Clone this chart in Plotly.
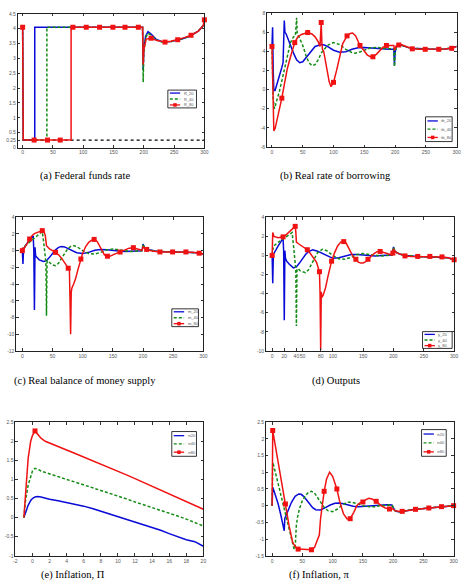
import plotly.graph_objects as go

# ---------------- data ----------------
# (a) Federal funds rate
a_x20 = [0, 1, 20, 20, 198, 199, 200, 203, 207, 212, 220, 230, 245, 260, 275, 290, 298, 300]
a_y20 = [4.05, 0.25, 0.25, 4.05, 4.05, 2.6, 3.3, 3.75, 3.9, 3.82, 3.65, 3.56, 3.57, 3.64, 3.74, 3.92, 4.1, 4.15]
a_x40 = [0, 1, 40, 40, 198, 199, 200, 203, 207, 212, 220, 230, 245, 260, 275, 290, 298, 300]
a_y40 = [4.05, 0.25, 0.25, 4.05, 4.05, 2.2, 3.2, 3.7, 3.85, 3.78, 3.63, 3.55, 3.57, 3.64, 3.74, 3.92, 4.1, 4.15]
a_x80 = [0, 1, 19, 41, 62, 80, 80, 83, 105, 127, 149, 169, 191, 198, 199, 200, 204, 212, 222, 235, 245, 256, 267, 278, 290, 298, 300]
a_y80 = [4.05, 0.25, 0.25, 0.25, 0.25, 0.25, 4.05, 4.05, 4.05, 4.05, 4.05, 4.05, 4.05, 4.05, 2.8, 3.3, 3.65, 3.68, 3.6, 3.55, 3.58, 3.63, 3.7, 3.78, 3.92, 4.1, 4.3]
a_mx80 = [0, 19, 41, 62, 83, 105, 127, 149, 169, 191, 212, 235, 256, 278, 300]
a_my80 = [4.05, 0.25, 0.25, 0.25, 4.05, 4.05, 4.05, 4.05, 4.05, 4.05, 3.68, 3.55, 3.63, 3.78, 4.3]
a_bound_x = [0, 300]
a_bound_y = [0.25, 0.25]

# (b) Real rate of borrowing
b_x20 = [0, 1, 2, 3, 5, 8, 12, 16, 18, 19, 20, 21, 23, 26, 30, 35, 40, 45, 50, 55, 60, 70, 80, 85, 90, 100, 110, 120, 130, 140, 150, 160, 170, 180, 190, 198, 199, 200, 202, 205, 208, 212, 220, 230, 240, 250, 260, 270, 280, 290, 300]
b_y20 = [4.5, 6.5, 2.0, -0.1, -0.1, 0.5, 1.4, 2.3, 2.8, 4.5, 7.2, 6.0, 5.8, 5.3, 4.6, 3.8, 3.1, 2.8, 2.9, 3.3, 3.8, 4.5, 4.7, 4.65, 4.5, 4.1, 3.9, 3.95, 4.2, 4.35, 4.4, 4.35, 4.25, 4.2, 4.2, 4.2, 2.5, 3.8, 4.5, 4.65, 4.7, 4.6, 4.4, 4.3, 4.25, 4.2, 4.2, 4.2, 4.2, 4.3, 4.5]
b_x40 = [0, 1, 2, 4, 8, 12, 16, 20, 25, 30, 35, 38, 39, 40, 41, 43, 46, 50, 55, 60, 65, 70, 75, 80, 90, 100, 110, 120, 130, 135, 140, 150, 160, 170, 180, 190, 198, 199, 200, 202, 205, 208, 212, 220, 230, 240, 260, 280, 300]
b_y40 = [4.5, 2.0, -1.0, -2.0, -1.2, -0.2, 0.9, 2.0, 3.4, 4.9, 5.5, 5.6, 6.5, 7.5, 5.9, 5.6, 5.2, 4.6, 3.6, 2.8, 2.5, 2.6, 3.1, 3.8, 4.6, 4.9, 4.7, 4.2, 3.85, 3.8, 3.85, 4.1, 4.35, 4.4, 4.3, 4.25, 4.25, 2.4, 3.8, 4.5, 4.65, 4.7, 4.6, 4.4, 4.3, 4.25, 4.2, 4.2, 4.5]
b_x80 = [0, 1, 2, 3, 5, 8, 12, 16, 20, 25, 30, 37, 42, 48, 58, 65, 70, 75, 78, 79, 80, 81, 82, 84, 87, 90, 93, 96, 100, 105, 110, 115, 122, 127, 131, 136, 143, 150, 155, 160, 164, 170, 175, 180, 186, 195, 198, 199, 200, 202, 206, 210, 218, 228, 238, 249, 260, 271, 280, 292, 300]
b_y80 = [4.5, 0.0, -3.5, -4.3, -4.1, -3.3, -2.2, -0.9, 0.5, 2.2, 3.4, 4.9, 5.5, 5.75, 5.95, 5.8, 5.5, 5.0, 4.5, 5.5, 7.0, 5.0, 4.2, 4.0, 3.0, 1.8, 0.8, 0.3, 0.75, 2.0, 3.6, 4.8, 5.6, 5.85, 5.9, 5.6, 4.6, 3.95, 3.6, 3.42, 3.42, 3.7, 4.1, 4.4, 4.6, 4.6, 4.6, 4.1, 4.3, 4.55, 4.65, 4.7, 4.5, 4.25, 4.2, 4.2, 4.18, 4.2, 4.22, 4.3, 4.5]
b_mx80 = [0, 16, 37, 58, 80, 100, 122, 143, 164, 186, 206, 228, 249, 271, 292]
b_my80 = [4.5, -0.9, 4.9, 5.95, 7.0, 0.75, 5.6, 4.6, 3.42, 4.6, 4.65, 4.25, 4.2, 4.2, 4.3]

# (c) Real balance of money supply
c_x20 = [0, 1, 2, 4, 8, 12, 16, 18, 19, 20, 21, 22, 24, 28, 35, 40, 45, 50, 55, 60, 65, 70, 80, 90, 100, 110, 120, 130, 140, 150, 160, 170, 180, 190, 198, 199, 200, 202, 205, 210, 220, 230, 250, 270, 290, 300]
c_y20 = [0, -1.6, 0.2, 0.5, 0.9, 1.3, 1.6, 1.75, 0.0, -7.1, 0.4, -0.6, -0.8, -1.1, -1.3, -1.2, -0.8, -0.3, 0.1, 0.4, 0.5, 0.45, 0.1, -0.25, -0.35, -0.2, 0.05, 0.15, 0.1, 0.0, -0.05, -0.1, -0.05, 0.0, 0.0, 0.3, 0.8, 0.4, 0.2, 0.1, -0.05, -0.1, -0.15, -0.15, -0.25, -0.4]
c_x40 = [0, 2, 5, 10, 15, 20, 25, 30, 33, 35, 37, 38, 39, 40, 41, 43, 46, 50, 55, 60, 65, 70, 75, 80, 85, 90, 100, 110, 120, 130, 140, 150, 160, 170, 180, 190, 198, 199, 200, 202, 205, 210, 220, 230, 250, 270, 290, 300]
c_y40 = [0, 0.4, 0.6, 0.9, 1.2, 1.5, 1.8, 2.1, 2.3, 1.2, -0.5, -1.2, -1.4, -7.8, -1.2, -1.3, -1.5, -1.7, -1.8, -1.5, -0.9, -0.3, 0.2, 0.5, 0.6, 0.5, 0.0, -0.35, -0.4, -0.2, 0.1, 0.2, 0.1, -0.05, -0.1, -0.05, 0.0, 0.3, 0.8, 0.4, 0.2, 0.1, -0.05, -0.1, -0.15, -0.15, -0.25, -0.4]
c_x80 = [0, 1, 2, 4, 8, 12, 16, 20, 25, 30, 33, 36, 38, 40, 42, 45, 50, 55, 60, 65, 70, 76, 78, 79, 80, 81, 82, 85, 88, 92, 97, 100, 105, 110, 115, 119, 124, 128, 132, 136, 141, 146, 150, 155, 162, 170, 177, 184, 190, 196, 198, 199, 200, 202, 206, 215, 228, 240, 249, 260, 271, 282, 293, 300]
c_y80 = [0, 0.4, 0.15, 0.4, 0.9, 1.4, 1.8, 2.05, 2.15, 2.3, 2.4, 2.3, 1.8, 0.6, 0.4, 0.2, 0.0, -0.2, -0.5, -0.9, -1.4, -2.1, -2.3, -6.0, -10.0, -5.0, -4.5, -4.0, -3.4, -2.3, -1.0, -0.3, 0.5, 1.0, 1.25, 1.35, 1.1, 0.5, -0.1, -0.5, -0.66, -0.65, -0.5, -0.35, -0.16, 0.1, 0.3, 0.36, 0.25, 0.1, 0.05, 0.2, 0.5, 0.3, 0.15, -0.05, -0.15, -0.15, -0.15, -0.15, -0.15, -0.2, -0.3, -0.4]
c_mx80 = [0, 12, 33, 55, 76, 97, 119, 141, 162, 184, 206, 228, 249, 271, 293]
c_my80 = [0, 1.4, 2.4, -0.2, -2.1, -1.0, 1.35, -0.66, -0.16, 0.36, 0.15, -0.15, -0.15, -0.15, -0.3]

# (d) Outputs
d_x20 = [0, 1, 2, 5, 10, 15, 18, 19, 20, 21, 22, 24, 28, 35, 40, 45, 50, 55, 60, 67, 75, 80, 90, 100, 110, 120, 130, 140, 150, 160, 170, 180, 190, 198, 199, 200, 202, 205, 210, 220, 240, 260, 280, 290, 300]
d_y20 = [0, -2.9, 0.1, 0.5, 1.0, 1.5, 1.8, 0.5, -6.8, 0.5, -0.3, -0.6, -0.9, -1.3, -1.2, -0.8, -0.3, 0.1, 0.4, 0.6, 0.45, 0.3, 0.0, -0.3, -0.25, -0.05, 0.1, 0.1, 0.05, 0.0, -0.05, 0.0, 0.05, 0.05, 0.4, 0.9, 0.5, 0.3, 0.15, 0.0, -0.1, -0.15, -0.15, -0.25, -0.45]
d_x40 = [0, 1, 3, 8, 15, 20, 25, 30, 33, 36, 38, 39, 40, 41, 43, 46, 50, 55, 60, 65, 70, 75, 83, 90, 100, 110, 120, 130, 140, 150, 160, 170, 180, 190, 198, 199, 200, 202, 205, 210, 220, 240, 260, 280, 290, 300]
d_y40 = [0, 0.6, 1.0, 1.3, 1.6, 1.8, 2.0, 2.2, 2.4, 0.5, -1.0, -1.5, -7.4, -1.4, -1.4, -1.6, -1.7, -1.8, -1.5, -0.9, -0.2, 0.3, 0.65, 0.5, 0.0, -0.35, -0.4, -0.2, 0.1, 0.2, 0.1, 0.0, -0.05, 0.0, 0.05, 0.4, 0.9, 0.5, 0.3, 0.15, 0.0, -0.1, -0.15, -0.15, -0.25, -0.45]
d_x80 = [0, 1, 3, 6, 10, 14, 18, 22, 26, 30, 34, 38, 39, 40, 44, 48, 52, 58, 63, 68, 73, 78, 79, 80, 81, 82, 84, 88, 92, 98, 103, 108, 113, 118, 122, 126, 130, 134, 138, 142, 146, 150, 154, 158, 163, 168, 173, 178, 184, 190, 195, 198, 199, 200, 202, 205, 210, 219, 230, 240, 250, 260, 270, 280, 290, 300]
d_y80 = [0, 2.4, 2.0, 1.9, 1.85, 1.9, 1.95, 2.1, 2.35, 2.6, 2.85, 3.05, 2.5, 1.4, 1.2, 1.05, 0.9, 0.6, 0.2, -0.2, -0.7, -1.7, -4.0, -9.9, -3.8, -4.4, -4.2, -3.4, -2.2, -0.6, 0.3, 1.0, 1.4, 1.45, 1.3, 0.8, 0.2, -0.2, -0.4, -0.7, -0.8, -0.8, -0.65, -0.4, -0.1, 0.2, 0.4, 0.42, 0.3, 0.15, 0.1, 0.1, 0.25, 0.7, 0.45, 0.3, 0.15, -0.05, -0.1, -0.1, -0.1, -0.1, -0.12, -0.15, -0.25, -0.45]
d_mx80 = [0, 18, 38, 58, 78, 98, 118, 138, 158, 178, 199, 219, 240, 260, 280, 300]
d_my80 = [0, 1.95, 3.05, 0.6, -1.7, -0.6, 1.45, -0.4, -0.4, 0.42, 0.25, -0.05, -0.1, -0.1, -0.15, -0.45]

# (e) Inflation (short horizon)
e_x = [-1, -0.8, -0.5, -0.2, 0, 0.3, 0.6, 1, 1.5, 2, 3, 4, 5, 6, 7, 8, 9, 10, 11, 12, 13, 14, 15, 16, 17, 18, 19, 20]
e_y20 = [0, 0.15, 0.32, 0.45, 0.5, 0.54, 0.55, 0.54, 0.51, 0.48, 0.44, 0.4, 0.35, 0.3, 0.24, 0.17, 0.1, 0.03, -0.04, -0.11, -0.18, -0.25, -0.33, -0.42, -0.5, -0.58, -0.63, -0.75]
e_y40 = [0, 0.45, 0.85, 1.1, 1.22, 1.29, 1.27, 1.22, 1.18, 1.15, 1.08, 1.0, 0.93, 0.86, 0.79, 0.72, 0.64, 0.56, 0.49, 0.41, 0.34, 0.26, 0.19, 0.11, 0.04, -0.04, -0.12, -0.22]
e_y80 = [0, 0.75, 1.55, 2.0, 2.15, 2.27, 2.2, 2.08, 2.0, 1.95, 1.86, 1.77, 1.68, 1.59, 1.5, 1.41, 1.31, 1.21, 1.12, 1.02, 0.92, 0.82, 0.72, 0.63, 0.53, 0.43, 0.33, 0.22]
e_mx80 = [0.3]
e_my80 = [2.27]

# (f) Inflation (full horizon)
f_x20 = [0, 1, 3, 6, 10, 14, 18, 20, 21, 23, 27, 32, 38, 44, 48, 52, 57, 62, 67, 72, 80, 88, 96, 104, 110, 118, 126, 134, 142, 150, 160, 170, 180, 190, 198, 200, 203, 208, 215, 230, 245, 260, 275, 290, 300]
f_y20 = [0, 0.55, 0.45, 0.3, 0.05, -0.25, -0.6, -0.75, -0.38, -0.3, -0.1, 0.1, 0.28, 0.35, 0.34, 0.28, 0.17, 0.05, -0.06, -0.12, -0.13, -0.06, 0.02, 0.07, 0.08, 0.06, 0.02, -0.02, -0.03, -0.02, 0.0, 0.02, 0.03, 0.03, 0.02, -0.05, -0.15, -0.18, -0.18, -0.12, -0.09, -0.07, -0.04, -0.02, 0.0]
f_x40 = [0, 1, 4, 8, 12, 16, 20, 24, 28, 32, 36, 38, 40, 42, 45, 50, 55, 60, 65, 70, 75, 80, 86, 92, 100, 108, 116, 124, 132, 140, 150, 160, 170, 180, 190, 198, 200, 203, 208, 215, 230, 245, 260, 275, 290, 300]
f_y40 = [0, 1.3, 1.1, 0.8, 0.5, 0.2, -0.1, -0.4, -0.7, -1.0, -1.28, -1.3, -0.6, -0.35, -0.1, 0.15, 0.3, 0.4, 0.43, 0.38, 0.25, 0.1, -0.05, -0.15, -0.18, -0.1, 0.02, 0.1, 0.1, 0.06, 0.0, -0.03, -0.03, 0.0, 0.02, 0.02, -0.05, -0.15, -0.18, -0.18, -0.12, -0.09, -0.07, -0.04, -0.02, 0.0]
f_x80 = [0, 1, 5, 10, 15, 22, 28, 34, 40, 43, 50, 58, 65, 70, 75, 78, 80, 83, 86, 90, 95, 100, 107, 112, 118, 124, 129, 135, 140, 145, 150, 155, 160, 165, 172, 180, 187, 194, 198, 200, 203, 208, 215, 225, 237, 248, 259, 270, 280, 290, 300]
f_y80 = [0, 2.25, 1.83, 1.3, 0.78, 0.05, -0.6, -1.1, -1.27, -1.3, -1.31, -1.32, -1.32, -1.25, -1.05, -0.88, -0.4, 0.1, 0.43, 0.8, 1.0, 0.88, 0.5, 0.1, -0.25, -0.4, -0.39, -0.2, 0.0, 0.08, 0.11, 0.18, 0.22, 0.2, 0.13, 0.0, -0.07, -0.1, -0.1, -0.1, -0.15, -0.17, -0.17, -0.14, -0.11, -0.09, -0.07, -0.05, -0.03, -0.01, 0.0]
f_mx80 = [1, 22, 43, 65, 86, 107, 129, 150, 172, 194, 215, 237, 259, 280, 300]
f_my80 = [2.25, 0.05, -1.3, -1.32, 0.43, 0.5, -0.39, 0.11, 0.13, -0.1, -0.17, -0.11, -0.07, -0.03, 0.0]

# tick labels
a_yticks = [0, 0.25, 0.5, 1, 1.5, 2, 2.5, 3, 3.5, 4, 4.5]
a_ytext = ["0", "0.25", "0.5", "1", "1.5", "2", "2.5", "3", "3.5", "4", "4.5"]
x300_ticks = [0, 50, 100, 150, 200, 250, 300]
d_xticks = [0, 20, 40, 50, 80, 100, 150, 200, 250, 300]
b_yticks = [-6, -4, -2, 0, 2, 4, 6, 8]
c_yticks = [-12, -10, -8, -6, -4, -2, 0, 2, 4]
d_yticks = [-10, -8, -6, -4, -2, 0, 2, 4]
e_xticks = [-2, 0, 2, 4, 6, 8, 10, 12, 14, 16, 18, 20]
e_yticks = [-1, -0.5, 0, 0.5, 1, 1.5, 2, 2.5]
f_yticks = [-1.5, -1, -0.5, 0, 0.5, 1, 1.5, 2, 2.5]

captions = ["(a) Federal funds rate", "(b) Real rate of borrowing",
            "(c) Real balance of money supply", "(d) Outputs",
            "(e) Inflation, \u03a0", "(f) Inflation, \u03c0"]
legend_labels = [["R_20", "R_40", "R_80"], ["rb_20", "rb_40", "rb_80"],
                 ["m_20", "m_40", "m_80"], ["y_20", "y_40", "y_80"],
                 ["\u03c020", "\u03c040", "\u03c080"], ["\u03c020", "\u03c040", "\u03c080"]]

for xs, ys in [(a_x20, a_y20), (a_x40, a_y40), (a_x80, a_y80), (a_mx80, a_my80),
               (b_x20, b_y20), (b_x40, b_y40), (b_x80, b_y80), (b_mx80, b_my80),
               (c_x20, c_y20), (c_x40, c_y40), (c_x80, c_y80), (c_mx80, c_my80),
               (d_x20, d_y20), (d_x40, d_y40), (d_x80, d_y80), (d_mx80, d_my80),
               (e_x, e_y20), (e_x, e_y40), (e_x, e_y80),
               (f_x20, f_y20), (f_x40, f_y40), (f_x80, f_y80), (f_mx80, f_my80)]:
    assert len(xs) == len(ys), (len(xs), len(ys), xs[:3])

# ---------------- styling / layout ----------------
W, H = 468, 585
BLUE = "#0a0ad8"
GREEN = "#138c13"
RED = "#f01212"
LW = 1.5


def pxx(v):
    return v / W


def pyy(v):
    return 1 - v / H


panels = [
    dict(series=[(a_x20, a_y20), (a_x40, a_y40), (a_x80, a_y80)], marks=(a_mx80, a_my80),
         box=(16, 205, 11, 146), xr=[-8, 300], yr=[0, 4.5], xt=x300_ticks, yt=a_yticks, ytt=a_ytext,
         leg=(168, 197, 88, 106), cap=(84, 175)),
    dict(series=[(b_x20, b_y20), (b_x40, b_y40), (b_x80, b_y80)], marks=(b_mx80, b_my80),
         box=(268.5, 460.5, 10, 145.5), xr=[-8, 300], yr=[-6, 8], xt=x300_ticks, yt=b_yticks, ytt=None,
         leg=(429, 456, 115, 140), cap=(338, 175)),
    dict(series=[(c_x20, c_y20), (c_x40, c_y40), (c_x80, c_y80)], marks=(c_mx80, c_my80),
         box=(14.5, 204, 216.5, 351.5), xr=[-10, 300], yr=[-12, 4], xt=x300_ticks, yt=c_yticks, ytt=None,
         leg=(172, 199, 309, 327), cap=(84, 382)),
    dict(series=[(d_x20, d_y20), (d_x40, d_y40), (d_x80, d_y80)], marks=(d_mx80, d_my80),
         box=(267.5, 458, 216.5, 351.5), xr=[-10, 300], yr=[-10, 4], xt=d_xticks, yt=d_yticks, ytt=None,
         leg=(426, 456, 332, 349), cap=(338, 382)),
    dict(series=[(e_x, e_y20), (e_x, e_y40), (e_x, e_y80)], marks=(e_mx80, e_my80),
         box=(13.5, 204, 423.5, 558.5), xr=[-2, 20], yr=[-1, 2.5], xt=e_xticks, yt=e_yticks, ytt=None,
         leg=(172, 197, 433, 458), cap=(72, 578)),
    dict(series=[(f_x20, f_y20), (f_x40, f_y40), (f_x80, f_y80)], marks=(f_mx80, f_my80),
         box=(267.5, 457.5, 423.5, 558.5), xr=[-10, 300], yr=[-1.5, 2.5], xt=x300_ticks, yt=f_yticks, ytt=None,
         leg=(425, 450, 431, 458), cap=(322, 578)),
]

fig = go.Figure()
layout = dict(width=W, height=H, margin=dict(l=0, r=0, t=0, b=0), plot_bgcolor="white",
              paper_bgcolor="white", showlegend=False)
shapes = []
annotations = []
tickfont = dict(family="Liberation Sans", size=5, color="#555555")
styles = [dict(color=BLUE, width=LW), dict(color=GREEN, width=LW, dash="3px,2px"), dict(color=RED, width=LW)]


def fmt(v):
    return "%g" % v


for i, p in enumerate(panels):
    n = "" if i == 0 else str(i + 1)
    xa, ya = "x" + n, "y" + n
    l, r, t, b = p["box"]
    axis_common = dict(showline=True, linecolor="#222222", linewidth=0.8, mirror="ticks", ticks="inside",
                       ticklen=2.5, tickwidth=0.6, tickcolor="#333333", showgrid=False, zeroline=False,
                       tickfont=tickfont, tickangle=0)
    layout["xaxis" + n] = dict(domain=[pxx(l), pxx(r)], range=p["xr"], anchor=ya, tickvals=p["xt"],
                               ticktext=[fmt(v) for v in p["xt"]], **axis_common)
    layout["yaxis" + n] = dict(domain=[pyy(b), pyy(t)], range=p["yr"], anchor=xa, tickvals=p["yt"],
                               ticktext=p["ytt"] if p["ytt"] else [fmt(v) for v in p["yt"]], **axis_common)
    if i == 0:
        fig.add_trace(go.Scatter(x=a_bound_x, y=a_bound_y, mode="lines", xaxis=xa, yaxis=ya,
                                 line=dict(color="black", width=1.1, dash="3px,3px"), hoverinfo="skip"))
    for (xs, ys), st in zip(p["series"], styles):
        fig.add_trace(go.Scatter(x=xs, y=ys, mode="lines", xaxis=xa, yaxis=ya, line=st, hoverinfo="skip"))
    mx, my = p["marks"]
    fig.add_trace(go.Scatter(x=mx, y=my, mode="markers", xaxis=xa, yaxis=ya, cliponaxis=False,
                             marker=dict(symbol="square", size=5, color=RED, line=dict(width=0)),
                             hoverinfo="skip"))
    # legend box
    L, R, T, B = p["leg"]
    shapes.append(dict(type="rect", xref="paper", yref="paper", x0=pxx(L), x1=pxx(R), y0=pyy(B), y1=pyy(T),
                       line=dict(color="black", width=0.8), fillcolor="white", layer="above"))
    rowh = (B - T) / 3.0
    for k, st in enumerate(styles):
        yc = T + rowh * (k + 0.5)
        shapes.append(dict(type="line", xref="paper", yref="paper", x0=pxx(L + 2), x1=pxx(L + 12.5),
                           y0=pyy(yc), y1=pyy(yc), line=dict(color=st["color"], width=1.3,
                                                             dash=st.get("dash", "solid")), layer="above"))
        if k == 2:
            shapes.append(dict(type="rect", xref="paper", yref="paper", x0=pxx(L + 5.5), x1=pxx(L + 9),
                               y0=pyy(yc + 1.8), y1=pyy(yc - 1.8), line=dict(width=0), fillcolor=RED,
                               layer="above"))
        annotations.append(dict(xref="paper", yref="paper", x=pxx(L + 14), y=pyy(yc), xanchor="left",
                                yanchor="middle", showarrow=False, text=legend_labels[i][k],
                                font=dict(family="Liberation Sans", size=4, color="#555555")))
    cx, cy = p["cap"]
    annotations.append(dict(xref="paper", yref="paper", x=pxx(cx), y=pyy(cy), xanchor="center",
                            yanchor="middle", showarrow=False, text=captions[i],
                            font=dict(family="Liberation Serif", size=10.5, color="black")))

layout["shapes"] = shapes
layout["annotations"] = annotations
fig.update_layout(**layout)
fig.write_html("out.html")
